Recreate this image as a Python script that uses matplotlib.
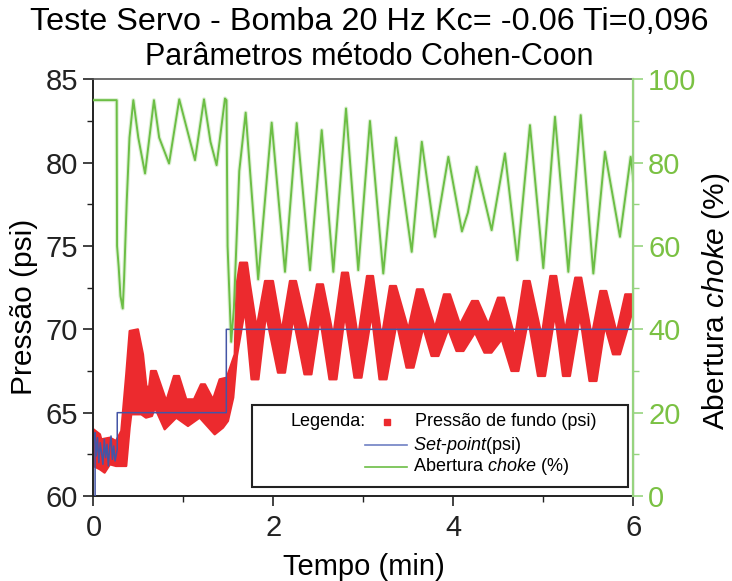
import numpy as np
import matplotlib
matplotlib.use("Agg")
import matplotlib.pyplot as plt
from matplotlib.patches import Rectangle
from matplotlib.lines import Line2D

plt.rcParams['font.family'] = ['Liberation Sans', 'DejaVu Sans']
plt.rcParams['mathtext.fontset'] = 'custom'
plt.rcParams['mathtext.rm'] = 'Liberation Sans'
plt.rcParams['mathtext.it'] = 'Liberation Sans:italic'

# Bottom-hole pressure (psi): upper and lower edges of the oscillating band
p_up_t = [0.000, 0.072, 0.087, 0.183, 0.250, 0.309, 0.364, 0.402, 0.494, 0.550, 0.587, 0.617,
          0.639, 0.694, 0.809, 0.894, 0.950, 1.031, 1.117, 1.194, 1.239, 1.328, 1.402, 1.480,
          1.569, 1.591, 1.628, 1.706, 1.739, 1.813, 1.906, 1.994, 2.091, 2.183, 2.250, 2.387,
          2.483, 2.550, 2.664, 2.761, 2.828, 2.939, 3.039, 3.106, 3.202, 3.294, 3.361, 3.498,
          3.594, 3.661, 3.794, 3.894, 3.961, 4.072, 4.206, 4.272, 4.387, 4.494, 4.561, 4.683,
          4.781, 4.847, 4.980, 5.076, 5.142, 5.239, 5.353, 5.420, 5.536, 5.631, 5.698, 5.813,
          5.909, 6.000]
p_up = [64.0, 63.7, 63.4, 63.5, 63.3, 63.9, 67.3, 69.9, 70.0, 68.5, 66.6, 66.5,
        67.5, 67.5, 65.7, 67.2, 67.2, 65.8, 65.8, 66.7, 66.7, 65.8, 67.0, 67.1,
        68.5, 72.7, 74.0, 74.0, 72.7, 70.1, 72.9, 72.9, 69.9, 72.9, 72.9, 69.7,
        72.7, 72.7, 69.6, 73.4, 73.4, 69.5, 73.2, 73.2, 69.5, 72.6, 72.6, 70.0,
        72.4, 72.4, 70.1, 72.1, 72.1, 70.3, 71.7, 71.7, 70.3, 71.9, 71.9, 69.5,
        72.9, 72.9, 69.6, 73.2, 73.2, 69.9, 73.1, 73.1, 69.6, 72.3, 72.3, 69.8,
        72.1, 72.1]

p_lo_t = [0.000, 0.072, 0.124, 0.183, 0.250, 0.364, 0.402, 0.420, 0.531,
          0.583, 0.650, 0.683, 0.791, 0.920, 1.050, 1.180, 1.347, 1.439, 1.494, 1.553, 1.594,
          1.683, 1.756, 1.833, 1.917, 2.050, 2.128, 2.220, 2.344, 2.422, 2.517, 2.622, 2.700,
          2.794, 2.900, 2.978, 3.091, 3.178, 3.256, 3.369, 3.478, 3.556, 3.664, 3.756, 3.833,
          3.942, 4.033, 4.111, 4.239, 4.344, 4.422, 4.536, 4.644, 4.722, 4.831, 4.939, 5.017,
          5.128, 5.217, 5.294, 5.406, 5.511, 5.589, 5.683, 5.772, 5.850, 5.980, 6.000]
p_lo = [61.8, 61.6, 61.4, 61.9, 61.8, 61.8, 64.1, 64.9, 64.9,
        64.7, 64.8, 65.3, 64.0, 64.7, 64.2, 64.7, 63.7, 64.1, 64.5, 65.9, 68.4,
        71.2, 67.0, 67.0, 70.9, 67.4, 67.4, 70.7, 67.3, 67.3, 70.7, 67.0, 67.0,
        70.9, 67.1, 67.1, 70.9, 67.0, 67.0, 70.4, 67.7, 67.7, 70.1, 68.4, 68.4,
        70.0, 68.7, 68.7, 69.8, 68.6, 68.6, 69.4, 67.5, 67.5, 70.6, 67.2, 67.2,
        70.9, 67.2, 67.2, 70.8, 66.9, 66.9, 70.2, 68.5, 68.5, 70.9, 70.9]

# Set-point (psi)
sp_t = [0.018, 0.018, 0.030, 0.045, 0.060, 0.075, 0.090, 0.105, 0.120, 0.135, 0.150, 0.165,
        0.180, 0.195, 0.210, 0.225, 0.240, 0.264, 0.264, 1.476, 1.476, 6.000]
sp = [60.0, 63.8, 62.4, 63.5, 62.0, 63.2, 62.6, 61.9, 63.4, 62.3, 63.1, 61.8,
      62.9, 63.6, 62.2, 63.0, 62.1, 62.8, 65.0, 65.0, 70.0, 70.0]

# Choke opening (%)
ch_t = [0.000, 0.258, 0.262, 0.280, 0.300, 0.325, 0.340, 0.370, 0.400, 0.443, 0.498, 0.573,
        0.672, 0.730, 0.840, 0.953, 1.128, 1.228, 1.300, 1.368, 1.461, 1.478, 1.490, 1.530,
        1.560, 1.620, 1.691, 1.830, 1.980, 2.128, 2.258, 2.406, 2.536, 2.665, 2.806, 2.942,
        3.072, 3.220, 3.361, 3.536, 3.648, 3.794, 3.943, 4.094, 4.160, 4.258, 4.424, 4.572,
        4.709, 4.850, 4.998, 5.128, 5.276, 5.414, 5.554, 5.683, 5.850, 5.969, 6.000]
choke = [95.0, 95.0, 60.0, 55.0, 48.0, 45.0, 52.0, 71.0, 86.0, 95.0, 86.0, 77.4,
         95.0, 86.0, 79.8, 95.2, 80.6, 95.2, 85.0, 79.4, 95.4, 95.0, 60.0, 37.0,
         45.0, 78.0, 92.0, 52.0, 89.6, 53.8, 89.5, 54.2, 87.8, 53.8, 93.0, 54.2,
         90.0, 53.4, 86.0, 58.6, 85.0, 62.2, 81.4, 63.5, 68.0, 79.0, 63.8, 82.2,
         56.6, 89.0, 54.7, 91.0, 53.8, 91.4, 53.4, 82.6, 62.2, 81.4, 75.8]

x_ticks = [0, 2, 4, 6]
p_ticks = [60, 65, 70, 75, 80, 85]
c_ticks = [0, 20, 40, 60, 80, 100]

RED = '#EC2A2E'
BLUE = '#4455A6'
GREEN = '#6CBE45'
GREEN_AX = '#97D47F'
GREEN_TXT = '#7AC143'
INK = '#222222'

fig = plt.figure(figsize=(7.32, 5.81), dpi=100)
ax = fig.add_axes([0.1277, 0.1463, 0.7377, 0.7172])
ax2 = ax.twinx()

# pressure band
ax.fill(np.r_[p_up_t, p_lo_t[::-1]], np.r_[p_up, p_lo[::-1]],
        color=RED, lw=1.6, ec=RED, joinstyle='round', zorder=2)
ax.plot(sp_t, sp, color=BLUE, lw=1.1, zorder=3)
ax.set_zorder(1)
ax.patch.set_visible(False)
ax2.set_zorder(2)
# choke opening: soft halo for the jittery trace plus the trace itself
ax2.plot(ch_t, choke, color=GREEN, lw=3.0, alpha=0.22, solid_joinstyle='round')
ax2.plot(ch_t, choke, color=GREEN, lw=1.4)

ax.set_xlim(0, 6)
ax.set_ylim(60, 85)
ax2.set_ylim(0, 100)

ax.set_xticks(x_ticks)
ax.set_xticks([1, 3, 5], minor=True)
ax.set_yticks(p_ticks)
ax.set_yticks([62.5, 67.5, 72.5, 77.5, 82.5], minor=True)
ax2.set_yticks(c_ticks)
ax2.set_yticks([10, 30, 50, 70, 90], minor=True)

ax.tick_params(axis='both', which='major', direction='out', length=7, width=1.2,
               labelsize=21, colors=INK)
ax.tick_params(axis='both', which='minor', direction='out', length=4, width=1.0,
               colors=INK)
ax.tick_params(axis='x', pad=6)
ax.tick_params(axis='y', pad=4)
ax2.tick_params(axis='y', which='major', direction='out', length=7, width=1.2,
                labelsize=21, colors=GREEN_AX, labelcolor=GREEN_TXT)
ax2.tick_params(axis='y', which='minor', direction='out', length=4, width=1.0,
                colors=GREEN_AX)

for s in ['left', 'bottom']:
    ax.spines[s].set_linewidth(1.4)
    ax.spines[s].set_color(INK)
ax.spines['top'].set_color('#555555')
ax.spines['top'].set_linewidth(1.2)
ax2.spines['right'].set_color(GREEN_AX)
ax2.spines['right'].set_linewidth(1.6)
ax2.spines['top'].set_visible(False)
ax2.spines['left'].set_visible(False)
ax2.spines['bottom'].set_visible(False)

ax.set_xlabel('Tempo (min)', fontsize=21, labelpad=8)
ax.set_ylabel('Pressão (psi)', fontsize=21.5, va='center')
ax.yaxis.set_label_coords(-0.129, 0.454)
ax2.set_ylabel(r'Abertura $\mathit{choke}$ (%)', fontsize=21.5, va='center')
ax2.yaxis.set_label_coords(1.152, 0.468)

fig.text(0.505, 0.962, 'Teste Servo - Bomba 20 Hz Kc= -0.06 Ti=0,096',
         ha='center', va='center', fontsize=23.3)
fig.text(0.504, 0.902, 'Parâmetros método Cohen-Coon',
         ha='center', va='center', fontsize=22)

# legend box
leg_box = Rectangle((0.293, 0.022), 0.697, 0.196, transform=ax.transAxes,
                    facecolor='white', edgecolor=INK, lw=1.5, zorder=10)
ax2.add_patch(leg_box)
fs = 13
ax2.text(0.364, 0.178, 'Legenda:', transform=ax.transAxes, fontsize=fs,
         va='center', ha='left', zorder=11)
ax2.add_line(Line2D([0.543], [0.178], transform=ax.transAxes, marker='s',
                    markersize=5, color=RED, lw=0, zorder=11))
ax2.text(0.595, 0.178, 'Pressão de fundo (psi)', transform=ax.transAxes,
         fontsize=fs, va='center', ha='left', zorder=11)
ax2.add_line(Line2D([0.503, 0.580], [0.122, 0.122], transform=ax.transAxes,
                    color='#6F80C4', lw=1.2, zorder=11))
ax2.text(0.591, 0.122, r'$\mathit{Set}$-$\mathit{point}$(psi)', transform=ax.transAxes,
         fontsize=fs, va='center', ha='left', zorder=11)
ax2.add_line(Line2D([0.503, 0.580], [0.070, 0.070], transform=ax.transAxes,
                    color=GREEN, lw=1.2, zorder=11))
ax2.text(0.591, 0.070, r'Abertura $\mathit{choke}$ (%)', transform=ax.transAxes,
         fontsize=fs, va='center', ha='left', zorder=11)

fig.savefig('out.png', dpi=100)
